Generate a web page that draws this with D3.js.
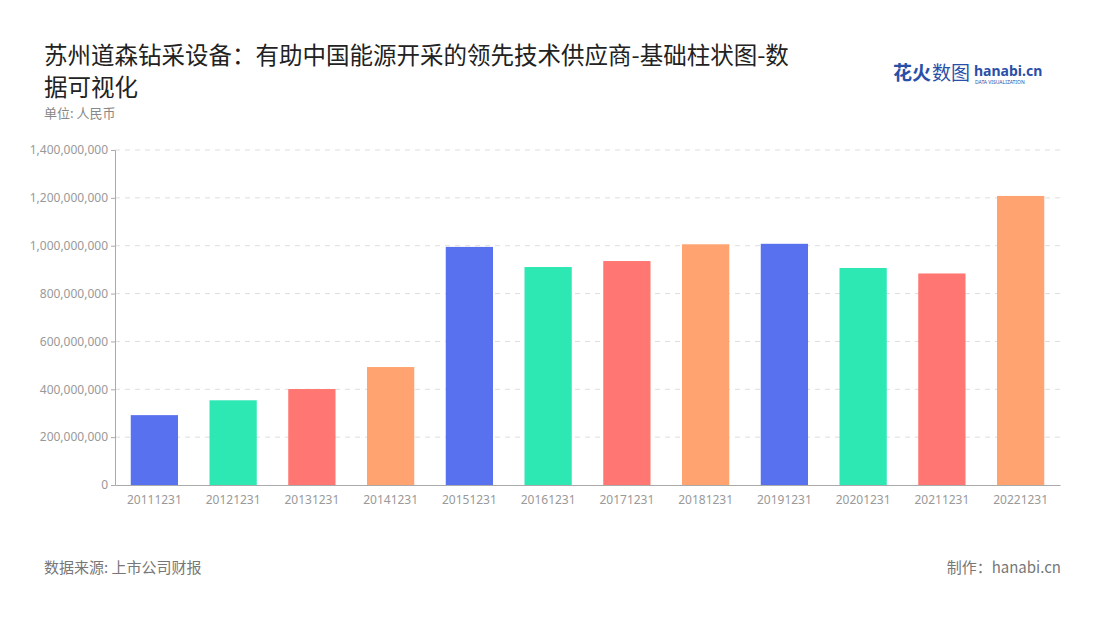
<!DOCTYPE html>
<html><head><meta charset="utf-8">
<script src="https://cdn.jsdelivr.net/npm/d3@7"></script>
<style>body{margin:0;background:#fff;font-family:"Noto Sans CJK SC","Noto Sans",sans-serif}</style>
</head><body><svg id="c" width="1100" height="620"></svg>
<script>
const categories=["20111231","20121231","20131231","20141231","20151231","20161231","20171231","20181231","20191231","20201231","20211231","20221231"];
const values=[292000000,354000000,401000000,493000000,995000000,911000000,936000000,1006000000,1008000000,907000000,884000000,1208000000];
const colors=["#5872ef","#2ee8b3","#ff7672","#ffa470"];
const yTicks=[0,200000000,400000000,600000000,800000000,1000000000,1200000000,1400000000];
const svg=d3.select("#c");
const L=115,R=1060,T=150,B=485;
const x=d3.scaleBand().domain(categories).range([L,R]).paddingInner(0.4).paddingOuter(0.2);
const y=d3.scaleLinear().domain([0,1400000000]).range([B,T]);
svg.append("text").attr("x",44).attr("y",64).attr("font-size",23.5).attr("fill","#222").text("苏州道森钻采设备：有助中国能源开采的领先技术供应商-基础柱状图-数");
svg.append("text").attr("x",44).attr("y",96).attr("font-size",23.5).attr("fill","#222").text("据可视化");
svg.append("text").attr("x",44).attr("y",118).attr("font-size",13).attr("fill","#888").text("单位: 人民币");
const g=svg.append("g");
yTicks.forEach(t=>{ if(t>0) g.append("line").attr("x1",L).attr("x2",R).attr("y1",y(t)).attr("y2",y(t)).attr("stroke","#ddd").attr("stroke-dasharray","5,5");});
const ya=svg.append("g").attr("transform",`translate(${L},0)`).call(d3.axisLeft(y).tickValues(yTicks).tickFormat(d3.format(",")).tickSize(4));
ya.selectAll("text").attr("fill","#999").attr("font-size",12).attr("font-family","Noto Sans");
ya.selectAll("line,path").attr("stroke","#aaa");
svg.selectAll("rect.b").data(values).enter().append("rect").attr("x",(d,i)=>x(categories[i])).attr("y",d=>y(d)).attr("width",x.bandwidth()).attr("height",d=>B-y(d)).attr("fill",(d,i)=>colors[i%4]);
const xa=svg.append("g").attr("transform",`translate(0,${B})`).call(d3.axisBottom(x).tickSize(0).tickPadding(10));
xa.selectAll("text").attr("fill","#999").attr("font-size",12).attr("font-family","Noto Sans");
xa.select("path").attr("stroke","#aaa");
svg.append("text").attr("x",44).attr("y",573).attr("font-size",15).attr("fill","#777").text("数据来源: 上市公司财报");
svg.append("text").attr("x",1061).attr("y",573).attr("text-anchor","end").attr("font-size",15).attr("fill","#777").text("制作：hanabi.cn");
svg.append("text").attr("x",893).attr("y",80).attr("font-size",19).attr("font-weight","bold").attr("fill","#2a4fa8").text("花火");
svg.append("text").attr("x",932).attr("y",80).attr("font-size",19).attr("fill","#2a4fa8").text("数图");
svg.append("text").attr("x",974).attr("y",76).attr("font-size",14).attr("font-weight","bold").attr("fill","#2a4fa8").attr("font-family","Noto Sans").text("hanabi.cn");
svg.append("text").attr("x",975).attr("y",84).attr("font-size",5).attr("fill","#2a4fa8").attr("font-family","Noto Sans").text("DATA VISUALIZATION");
</script></body></html>
